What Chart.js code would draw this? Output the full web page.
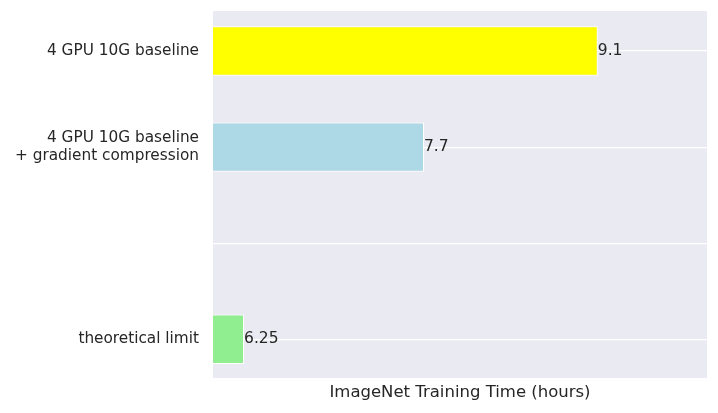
<!DOCTYPE html>
<html>
<head>
<meta charset="utf-8">
<script src="https://cdn.jsdelivr.net/npm/chart.js@4/dist/chart.umd.min.js"></script>
<style>
  html, body { margin: 0; padding: 0; background: #ffffff; }
  #wrap { width: 718px; height: 413px; position: relative; }
</style>
</head>
<body>
<div id="wrap"><canvas id="c"></canvas></div>
<script>
// ---- data ----
const categories = [
  "4 GPU 10G baseline",
  ["4 GPU 10G baseline", "+ gradient compression"],
  "",
  "theoretical limit"
];
const hours = [9.1, 7.7, null, 6.25];
const barColors = ["#ffff00", "#add8e6", "#add8e6", "#90ee90"];
const valueLabels = ["9.1", "7.7", "", "6.25"];
const xMin = 6, xMax = 9.98;
const xTitle = "ImageNet Training Time (hours)";

const TEXT = "#262626";
const FONT = "'DejaVu Sans', sans-serif";

const points = hours.map((v, i) => ({ x: v, y: i }));

const bgPlugin = {
  id: "bgPlugin",
  beforeDraw(chart) {
    const { ctx, chartArea: a } = chart;
    ctx.save();
    ctx.fillStyle = "#eaeaf2";
    ctx.fillRect(a.left, a.top, a.right - a.left, a.bottom - a.top);
    ctx.restore();
  }
};

const labelPlugin = {
  id: "labelPlugin",
  afterDatasetsDraw(chart) {
    const { ctx } = chart;
    const meta = chart.getDatasetMeta(0);
    ctx.save();
    ctx.font = "15.5px " + FONT;
    ctx.fillStyle = TEXT;
    ctx.textAlign = "left";
    ctx.textBaseline = "middle";
    meta.data.forEach((el, i) => {
      if (hours[i] == null) return;
      ctx.fillText(valueLabels[i], el.x, el.y);
    });
    ctx.restore();
  }
};

new Chart(document.getElementById("c"), {
  type: "bar",
  data: {
    datasets: [{
      data: points,
      backgroundColor: barColors,
      borderColor: "#ffffff",
      borderWidth: 1,
      base: xMin,
      categoryPercentage: 0.515,
      barPercentage: 1.0
    }]
  },
  options: {
    indexAxis: "y",
    responsive: true,
    maintainAspectRatio: false,
    animation: false,
    layout: { padding: { left: 0, top: 11, right: 11, bottom: 0 } },
    plugins: { legend: { display: false }, tooltip: { enabled: false } },
    scales: {
      x: {
        type: "linear",
        min: xMin,
        max: xMax,
        grid: { display: false },
        border: { display: false },
        ticks: { display: false },
        title: {
          display: true,
          text: xTitle,
          color: TEXT,
          font: { family: FONT, size: 16.5 },
          padding: { top: 10, bottom: 10 }
        },
        afterFit(scale) { scale.height = 35; scale.paddingLeft = 0; scale.paddingRight = 0; }
      },
      y: {
        type: "linear",
        reverse: true,
        offset: false,
        min: -0.417,
        max: 3.403,
        grid: { color: "#ffffff", lineWidth: 1.2, drawTicks: false, offset: false },
        border: { display: false },
        afterBuildTicks(scale) {
          scale.ticks = categories.map((c, i) => ({ value: i }));
        },
        ticks: {
          color: TEXT,
          font: { family: FONT, size: 15.3 },
          padding: 14,
          callback: (v) => categories[v]
        },
        afterFit(scale) { scale.width = 213; scale.paddingTop = 0; scale.paddingBottom = 0; }
      }
    }
  },
  plugins: [bgPlugin, labelPlugin]
});
</script>
</body>
</html>
